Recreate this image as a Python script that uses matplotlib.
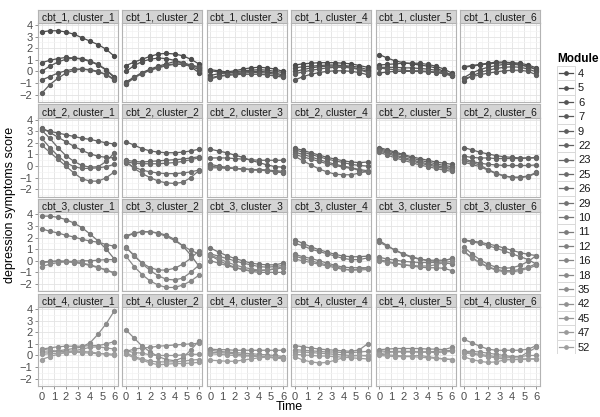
import numpy as np
import matplotlib
matplotlib.use("Agg")
import matplotlib.pyplot as plt
from matplotlib.patches import Rectangle
from matplotlib.ticker import MultipleLocator

plt.rcParams['font.family'] = ['Liberation Sans', 'DejaVu Sans']

time = [0, 0.667, 1.333, 2, 2.667, 3.333, 4, 4.667, 5.333, 6]
modules = ['4', '5', '6', '7', '9', '22', '23', '25', '26', '29',
           '10', '11', '12', '16', '18', '35', '42', '45', '47', '52']
row_names = ['cbt_1', 'cbt_2', 'cbt_3', 'cbt_4']
col_names = ['cluster_1', 'cluster_2', 'cluster_3', 'cluster_4', 'cluster_5', 'cluster_6']

# each row: 6 clusters x 5 module trajectories (10 time points)
cbt_1 = [
    [[3.4, 3.5, 3.5, 3.4, 3.2, 2.9, 2.6, 2.3, 1.9, 1.3],
     [0.75, 0.95, 1.1, 1.2, 1.15, 1.05, 0.85, 0.55, 0.1, -0.45],
     [0.0, 0.45, 0.8, 1.05, 1.15, 1.1, 0.9, 0.6, 0.15, -0.6],
     [-0.75, -0.45, -0.15, 0.05, 0.2, 0.2, 0.1, -0.05, -0.25, -0.7],
     [-1.9, -1.15, -0.6, -0.15, 0.1, 0.2, 0.15, 0.0, -0.3, -0.75]],
    [[0.5, 0.8, 1.05, 1.3, 1.5, 1.55, 1.5, 1.35, 1.05, 0.65],
     [0.0, 0.5, 0.85, 1.05, 1.15, 1.1, 0.95, 0.75, 0.4, -0.1],
     [-0.9, -0.5, -0.1, 0.2, 0.45, 0.65, 0.85, 0.75, 0.55, 0.3],
     [-1.05, -0.5, -0.15, 0.15, 0.35, 0.55, 0.65, 0.6, 0.45, 0.15],
     [-1.1, -0.55, -0.2, 0.1, 0.3, 0.5, 0.6, 0.65, 0.55, 0.4]],
    [[0.15, 0.05, -0.05, 0.05, 0.2, 0.3, 0.35, 0.3, 0.2, 0.0],
     [0.05, -0.05, -0.1, -0.05, 0.05, 0.1, 0.15, 0.1, 0.0, -0.1],
     [-0.35, -0.2, -0.15, -0.1, -0.05, 0.0, 0.0, -0.05, -0.15, -0.3],
     [-0.55, -0.4, -0.3, -0.2, -0.15, -0.1, -0.1, -0.15, -0.25, -0.4],
     [-0.65, -0.45, -0.35, -0.3, -0.25, -0.25, -0.25, -0.3, -0.4, -0.5]],
    [[0.55, 0.65, 0.7, 0.75, 0.75, 0.75, 0.7, 0.65, 0.5, 0.35],
     [0.3, 0.4, 0.45, 0.5, 0.55, 0.55, 0.5, 0.45, 0.35, 0.15],
     [0.0, 0.15, 0.3, 0.4, 0.45, 0.45, 0.45, 0.35, 0.2, 0.0],
     [-0.75, -0.45, -0.25, -0.1, 0.0, 0.05, 0.05, 0.0, -0.1, -0.3],
     [-0.2, -0.05, 0.1, 0.2, 0.3, 0.35, 0.35, 0.3, 0.15, -0.1]],
    [[1.45, 1.15, 0.9, 0.75, 0.65, 0.55, 0.45, 0.3, 0.0, -0.35],
     [0.55, 0.6, 0.65, 0.7, 0.7, 0.7, 0.6, 0.45, 0.2, -0.15],
     [0.35, 0.35, 0.35, 0.3, 0.3, 0.25, 0.2, 0.1, -0.05, -0.3],
     [-0.15, -0.05, 0.0, 0.0, 0.0, 0.0, -0.05, -0.1, -0.2, -0.4],
     [0.3, 0.2, 0.15, 0.1, 0.05, 0.05, 0.0, -0.05, -0.15, -0.3]],
    [[0.4, 0.5, 0.6, 0.7, 0.8, 0.8, 0.75, 0.7, 0.55, 0.3],
     [0.35, 0.45, 0.55, 0.65, 0.7, 0.75, 0.7, 0.6, 0.4, 0.15],
     [-0.55, -0.15, 0.15, 0.35, 0.5, 0.6, 0.6, 0.55, 0.4, 0.2],
     [-0.8, -0.4, -0.1, 0.1, 0.25, 0.35, 0.4, 0.35, 0.2, -0.05],
     [-0.6, -0.45, -0.3, -0.15, -0.05, 0.05, 0.1, 0.1, 0.0, -0.3]],
]

cbt_2 = [
    [[3.2, 3.0, 2.85, 2.7, 2.55, 2.4, 2.3, 2.15, 2.0, 1.9],
     [3.3, 2.9, 2.5, 2.1, 1.7, 1.35, 1.05, 0.85, 0.75, 0.7],
     [3.1, 2.4, 1.6, 0.9, 0.4, 0.05, -0.1, -0.05, 0.4, 1.15],
     [2.4, 1.6, 0.9, 0.3, -0.05, -0.2, -0.2, -0.15, -0.05, 0.15],
     [1.8, 1.2, 0.6, 0.0, -0.6, -1.1, -1.3, -1.3, -1.0, -0.5]],
    [[2.1, 1.8, 1.5, 1.3, 1.2, 1.15, 1.15, 1.2, 1.3, 1.45],
     [0.5, 0.4, 0.35, 0.4, 0.45, 0.5, 0.55, 0.6, 0.7, 0.8],
     [0.35, 0.25, 0.2, 0.2, 0.2, 0.25, 0.3, 0.4, 0.55, 0.7],
     [0.3, -0.1, -0.35, -0.5, -0.6, -0.65, -0.65, -0.6, -0.5, -0.35],
     [0.4, -0.2, -0.65, -1.0, -1.3, -1.45, -1.5, -1.4, -1.0, -0.4]],
    [[1.45, 1.3, 1.15, 0.95, 0.75, 0.5, 0.3, 0.1, -0.05, -0.1],
     [0.7, 0.7, 0.7, 0.65, 0.6, 0.55, 0.5, 0.5, 0.5, 0.5],
     [0.15, 0.0, -0.1, -0.2, -0.25, -0.3, -0.35, -0.35, -0.4, -0.45],
     [0.0, -0.1, -0.15, -0.2, -0.25, -0.3, -0.3, -0.35, -0.45, -0.6],
     [-0.15, -0.15, -0.2, -0.2, -0.25, -0.3, -0.35, -0.4, -0.5, -0.55]],
    [[1.55, 1.35, 1.15, 0.95, 0.75, 0.6, 0.45, 0.35, 0.3, 0.35],
     [1.4, 1.2, 1.0, 0.8, 0.6, 0.45, 0.3, 0.15, 0.05, 0.0],
     [1.2, 1.0, 0.8, 0.55, 0.35, 0.15, 0.0, -0.15, -0.3, -0.4],
     [1.0, 0.8, 0.6, 0.4, 0.2, 0.05, -0.1, -0.2, -0.35, -0.55],
     [0.85, 0.45, 0.1, -0.25, -0.5, -0.7, -0.75, -0.75, -0.6, -0.45]],
    [[1.6, 1.4, 1.2, 1.0, 0.8, 0.65, 0.5, 0.35, 0.25, 0.15],
     [1.5, 1.3, 1.1, 0.9, 0.7, 0.5, 0.35, 0.2, 0.05, -0.05],
     [1.4, 1.2, 0.95, 0.75, 0.55, 0.35, 0.2, 0.05, -0.1, -0.2],
     [1.3, 1.1, 0.85, 0.65, 0.45, 0.25, 0.1, -0.05, -0.2, -0.3],
     [1.2, 0.95, 0.7, 0.5, 0.3, 0.1, -0.05, -0.2, -0.35, -0.45]],
    [[1.6, 1.4, 1.2, 1.05, 0.9, 0.8, 0.75, 0.7, 0.7, 0.75],
     [0.85, 0.75, 0.7, 0.7, 0.65, 0.65, 0.65, 0.65, 0.7, 0.7],
     [0.65, 0.4, 0.25, 0.15, 0.1, 0.05, 0.05, 0.05, 0.05, 0.1],
     [0.5, 0.3, 0.1, -0.3, -0.6, -0.85, -0.95, -0.95, -0.85, -0.55],
     [0.35, 0.15, -0.05, -0.35, -0.65, -0.85, -1.0, -1.0, -0.9, -0.6]],
]

cbt_3 = [
    [[3.85, 3.85, 3.75, 3.55, 3.25, 2.85, 2.3, 1.7, 1.0, 0.15],
     [2.75, 2.55, 2.4, 2.2, 2.05, 1.85, 1.7, 1.6, 1.4, 1.25],
     [-0.1, -0.05, 0.0, -0.05, -0.05, 0.0, 0.0, 0.05, 0.1, 0.1],
     [-0.15, -0.1, -0.05, -0.05, -0.15, -0.25, -0.4, -0.6, -0.8, -1.05],
     [-0.5, -0.3, -0.15, -0.1, -0.1, -0.2, -0.35, -0.55, -0.8, -1.05]],
    [[2.1, 2.35, 2.5, 2.5, 2.4, 2.2, 1.85, 1.3, 0.5, -0.45],
     [2.15, 2.4, 2.5, 2.5, 2.35, 2.1, 1.75, 1.3, 0.9, 0.6],
     [1.2, 0.4, -0.2, -0.6, -0.8, -0.8, -0.65, -0.3, 0.2, 0.85],
     [1.1, 0.5, -0.25, -0.85, -1.3, -1.6, -1.65, -1.5, -1.0, -0.4],
     [0.4, -0.5, -1.2, -1.75, -2.1, -2.3, -2.3, -2.1, -1.75, -1.25]],
    [[1.1, 0.75, 0.45, 0.2, 0.0, -0.2, -0.3, -0.35, -0.35, -0.2],
     [0.6, 0.4, 0.2, 0.0, -0.2, -0.35, -0.5, -0.55, -0.5, -0.4],
     [0.45, 0.05, -0.3, -0.55, -0.75, -0.85, -0.85, -0.8, -0.7, -0.6],
     [0.0, -0.2, -0.4, -0.6, -0.75, -0.9, -1.0, -1.0, -1.0, -1.0],
     [0.5, 0.2, -0.1, -0.35, -0.55, -0.7, -0.8, -0.8, -0.7, -0.5]],
    [[1.8, 1.5, 1.2, 0.95, 0.75, 0.55, 0.4, 0.35, 0.35, 0.4],
     [1.5, 1.3, 1.0, 0.8, 0.6, 0.4, 0.2, 0.1, 0.1, 0.25],
     [0.55, 0.35, 0.2, 0.0, -0.2, -0.4, -0.55, -0.6, -0.6, -0.6],
     [0.4, 0.2, 0.0, -0.2, -0.35, -0.5, -0.7, -0.8, -0.7, -0.6],
     [0.15, 0.0, -0.15, -0.3, -0.45, -0.6, -0.75, -0.8, -0.8, -0.75]],
    [[1.75, 1.3, 0.9, 0.55, 0.3, 0.15, 0.05, 0.05, 0.05, 0.15],
     [1.6, 1.25, 0.9, 0.6, 0.35, 0.15, 0.0, -0.05, 0.0, 0.2],
     [0.3, 0.15, 0.05, -0.05, -0.1, -0.15, -0.15, -0.15, -0.2, -0.25],
     [0.1, -0.05, -0.2, -0.35, -0.45, -0.55, -0.6, -0.6, -0.65, -0.85],
     [0.0, -0.15, -0.25, -0.35, -0.4, -0.45, -0.45, -0.35, -0.15, -0.05]],
    [[1.8, 1.7, 1.6, 1.45, 1.3, 1.1, 0.9, 0.7, 0.55, 0.45],
     [1.75, 1.65, 1.5, 1.3, 1.1, 0.85, 0.6, 0.35, 0.1, -0.3],
     [1.2, 0.6, 0.1, -0.3, -0.55, -0.65, -0.6, -0.4, -0.05, 0.45],
     [0.85, 0.3, -0.15, -0.5, -0.75, -0.85, -0.85, -0.75, -0.55, -0.25],
     [0.8, 0.25, -0.2, -0.55, -0.8, -0.95, -0.95, -0.85, -0.65, -0.4]],
]

cbt_4 = [
    [[0.3, 0.3, 0.4, 0.5, 0.6, 0.75, 1.1, 1.85, 2.75, 3.85],
     [0.55, 0.65, 0.75, 0.8, 0.8, 0.8, 0.85, 0.85, 1.0, 1.2],
     [0.55, 0.45, 0.35, 0.35, 0.4, 0.55, 0.7, 0.75, 0.65, 0.55],
     [0.1, 0.15, 0.2, 0.25, 0.3, 0.25, 0.2, 0.15, 0.15, 0.1],
     [-0.35, -0.1, 0.1, 0.25, 0.35, 0.35, 0.3, 0.2, 0.1, 0.0]],
    [[2.2, 1.5, 0.8, 0.3, -0.1, -0.35, -0.45, -0.2, 0.45, 1.25],
     [0.35, 0.55, 0.65, 0.7, 0.8, 0.85, 0.9, 0.95, 1.0, 1.05],
     [0.4, 0.25, 0.2, 0.05, 0.0, 0.0, 0.0, 0.05, 0.1, 0.1],
     [0.25, -0.1, -0.3, -0.5, -0.55, -0.55, -0.55, -0.5, -0.4, -0.35],
     [0.1, -0.2, -0.4, -0.65, -0.8, -0.75, -0.7, -0.7, -0.65, -0.6]],
    [[0.55, 0.5, 0.5, 0.45, 0.45, 0.45, 0.45, 0.45, 0.45, 0.45],
     [0.45, 0.35, 0.3, 0.25, 0.2, 0.15, 0.1, 0.05, 0.0, -0.1],
     [0.25, 0.25, 0.2, 0.15, 0.05, 0.0, -0.05, -0.1, -0.15, -0.2],
     [0.15, 0.1, 0.05, 0.0, -0.05, -0.05, -0.1, -0.15, -0.2, -0.3],
     [-0.4, -0.45, -0.5, -0.5, -0.4, -0.3, -0.2, -0.15, -0.2, -0.25]],
    [[0.85, 0.75, 0.65, 0.55, 0.5, 0.45, 0.4, 0.35, 0.5, 1.0],
     [0.5, 0.45, 0.4, 0.35, 0.3, 0.3, 0.25, 0.25, 0.3, 0.35],
     [0.3, 0.3, 0.25, 0.2, 0.15, 0.1, 0.05, 0.0, 0.0, -0.05],
     [0.1, 0.05, 0.0, -0.05, -0.05, -0.1, -0.15, -0.2, -0.25, -0.3],
     [-0.1, -0.4, -0.55, -0.65, -0.6, -0.4, -0.2, -0.05, 0.0, 0.0]],
    [[0.5, 0.55, 0.6, 0.6, 0.6, 0.6, 0.55, 0.55, 0.5, 0.7],
     [0.4, 0.35, 0.3, 0.3, 0.3, 0.3, 0.3, 0.35, 0.4, 0.45],
     [0.15, 0.25, 0.35, 0.35, 0.35, 0.3, 0.3, 0.25, 0.3, 0.35],
     [0.1, 0.05, 0.0, -0.05, -0.05, 0.0, -0.1, -0.2, -0.3, -0.35],
     [0.0, -0.05, -0.1, -0.1, -0.1, -0.15, -0.2, -0.25, -0.3, -0.35]],
    [[1.4, 1.1, 0.8, 0.55, 0.45, 0.45, 0.45, 0.45, 0.55, 0.85],
     [0.35, 0.35, 0.3, 0.2, 0.1, 0.0, -0.1, -0.1, 0.3, 0.7],
     [0.3, 0.2, 0.1, 0.0, -0.1, -0.15, -0.15, -0.1, 0.0, 0.0],
     [0.2, 0.15, 0.0, -0.1, -0.2, -0.3, -0.35, -0.35, -0.3, -0.3],
     [-0.1, -0.35, -0.5, -0.6, -0.55, -0.4, -0.35, -0.3, -0.3, -0.3]],
]

rows = [cbt_1, cbt_2, cbt_3, cbt_4]

# grey shades, dark for the first modules, lighter towards the last
lev = np.linspace(0.3, 0.62, len(modules))
colors = [(g, g, g) for g in lev]

W, H = 600, 417
fig = plt.figure(figsize=(W / 100, H / 100), dpi=100)

def px_axes(x0, y0, w, h):
    return fig.add_axes([x0 / W, 1 - (y0 + h) / H, w / W, h / H])

left0, pw, gap = 38, 80, 4.4
strip_h, panel_h, pitch, top0 = 13.5, 79, 94.7, 9.5

for r, row in enumerate(rows):
    for c, panel in enumerate(row):
        x0 = left0 + c * (pw + gap)
        ys = top0 + r * pitch
        ax = px_axes(x0, ys + strip_h, pw, panel_h)
        for k, vals in enumerate(panel):
            col = colors[r * 5 + k]
            ax.plot(time, vals, color=col, lw=0.9, marker='o', ms=2.8,
                    mec=col, mfc=col, zorder=3)
        ax.set_xlim(-0.3, 6.3)
        ax.set_ylim(-2.64, 4.17)
        ax.xaxis.set_major_locator(MultipleLocator(1))
        ax.xaxis.set_minor_locator(MultipleLocator(0.5))
        ax.yaxis.set_major_locator(MultipleLocator(1))
        ax.yaxis.set_minor_locator(MultipleLocator(0.5))
        ax.grid(which='major', color='#e3e3e3', lw=0.6)
        ax.grid(which='minor', color='#f3f3f3', lw=0.5)
        ax.set_axisbelow(True)
        for s in ax.spines.values():
            s.set_color('#b3b3b3')
            s.set_linewidth(0.8)
        ax.tick_params(which='minor', length=0)
        ax.tick_params(which='major', length=2.5, width=0.6, color='#7f7f7f',
                       labelsize=8, labelcolor='#4d4d4d', pad=1.5)
        if c != 0:
            ax.tick_params(axis='y', length=0, labelleft=False)
        if r != len(rows) - 1:
            ax.tick_params(axis='x', length=0, labelbottom=False)

        sax = px_axes(x0, ys, pw, strip_h)
        sax.set_xticks([])
        sax.set_yticks([])
        sax.set_facecolor('#d4d4d4')
        for s in sax.spines.values():
            s.set_color('#b3b3b3')
            s.set_linewidth(0.8)
        sax.text(0.5, 0.45, f'{row_names[r]}, {col_names[c]}', ha='center',
                 va='center', fontsize=7.4, color='#1a1a1a', transform=sax.transAxes)

fig.text(289 / W, 1 - 407 / H, 'Time', ha='center', va='center', fontsize=9)
fig.text(10 / W, 1 - 205 / H, 'depression symptoms score', ha='center',
         va='center', rotation=90, fontsize=9)

# legend
n = len(modules)
kh = 14.4
lax = px_axes(557, 66, 60, kh * n)
lax.set_xlim(0, 60)
lax.set_ylim(n, 0)
lax.axis('off')
for i, m in enumerate(modules):
    lax.add_patch(Rectangle((0, i), 18, 1, facecolor='white',
                            edgecolor='#d9d9d9', lw=0.7))
    lax.plot([2, 16], [i + 0.5, i + 0.5], color=colors[i], lw=0.9)
    lax.plot([9], [i + 0.5], marker='o', ms=2.4, color=colors[i])
    lax.text(21, i + 0.55, m, va='center', ha='left', fontsize=8, color='#1a1a1a')
fig.text(557 / W, 1 - 59 / H, 'Module', ha='left', va='center',
         fontsize=8.5, fontweight='bold')

fig.savefig('out.png', dpi=100)
